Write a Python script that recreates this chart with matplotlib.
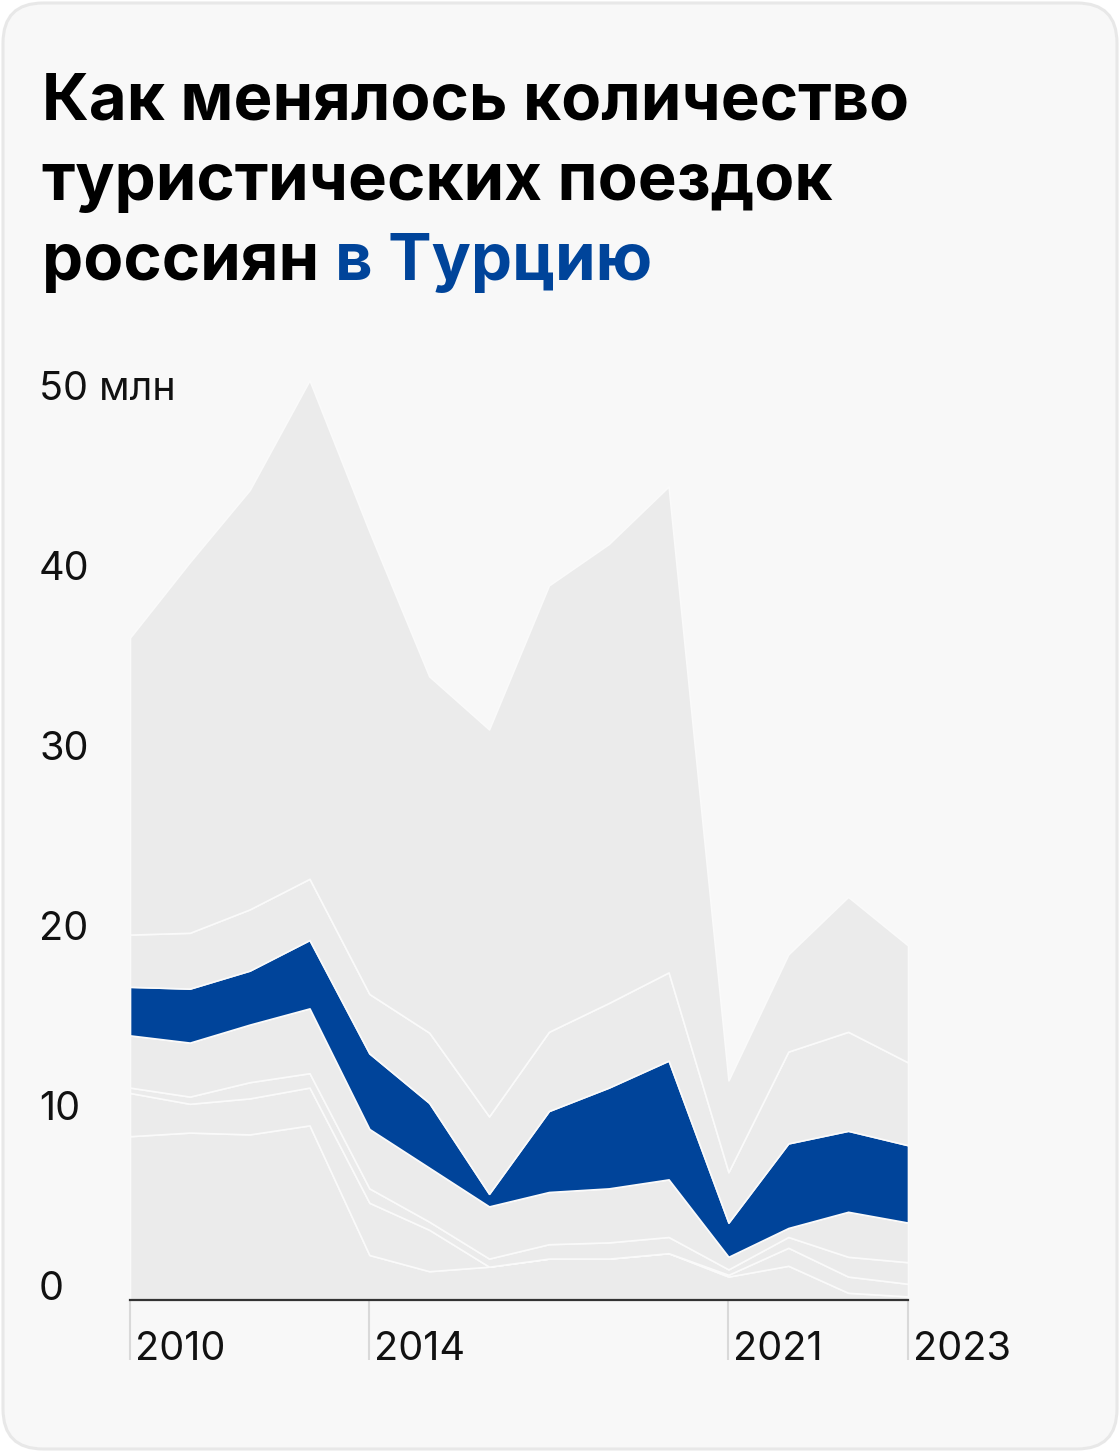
import matplotlib
matplotlib.use('Agg')
import matplotlib.pyplot as plt
from matplotlib.patches import FancyBboxPatch
from matplotlib.transforms import IdentityTransform, blended_transform_factory, offset_copy

# data (millions of trips), stacked from bottom to top
years = list(range(2010, 2024))
layer_1 = [9.1, 9.3, 9.2, 9.7, 2.5, 1.6, 1.85, 2.3, 2.3, 2.6, 1.3, 1.9, 0.4, 0.2]
layer_2 = [2.4, 1.6, 2.0, 2.1, 2.9, 2.3, 0.0, 0.0, 0.0, 0.0, 0.1, 1.0, 0.9, 0.7]
layer_3 = [0.3, 0.4, 0.9, 0.8, 0.8, 0.45, 0.45, 0.8, 0.9, 0.9, 0.3, 0.6, 1.1, 1.2]
layer_4 = [2.9, 3.0, 3.2, 3.6, 3.3, 3.0, 2.9, 2.9, 3.0, 3.2, 0.7, 0.5, 2.5, 2.2]
turkey = [2.7, 3.0, 3.0, 3.8, 4.2, 3.6, 0.7, 4.5, 5.6, 6.6, 1.9, 4.7, 4.5, 4.3]
layer_6 = [2.9, 3.1, 3.4, 3.4, 3.3, 3.9, 4.3, 4.4, 4.7, 4.9, 2.8, 5.1, 5.5, 4.6]
other = [16.5, 20.6, 23.3, 27.7, 25.7, 19.8, 21.5, 24.8, 25.5, 27.0, 5.1, 5.4, 7.5, 6.5]

y_ticks = [0, 10, 20, 30, 40, 50]
y_labels = ['0', '10', '20', '30', '40', '50 млн']
x_ticks = [2010, 2014, 2020, 2023]
x_labels = ['2010', '2014', '2021', '2023']

W, H = 1120, 1452
GREY = '#ebebeb'
BLUE = '#00449a'
BG = '#f8f8f8'

plt.rcParams['font.family'] = ['Inter', 'DejaVu Sans']

fig = plt.figure(figsize=(W / 100, H / 100), dpi=100)
fig.patch.set_facecolor('white')

card = FancyBboxPatch((3, 3), W - 6, H - 6, boxstyle='round,pad=0,rounding_size=40',
                      transform=IdentityTransform(), facecolor=BG, edgecolor='#e8e8e8',
                      linewidth=2.2, zorder=-10)
fig.add_artist(card)

# title
fig.text(42 / W, 1 - 120 / H, 'Как менялось количество', fontsize=47,
         fontweight='bold', color='black', va='baseline')
fig.text(42 / W, 1 - 200 / H, 'туристических поездок', fontsize=47,
         fontweight='bold', color='black', va='baseline')
t1 = fig.text(42 / W, 1 - 280 / H, 'россиян ', fontsize=47,
              fontweight='bold', color='black', va='baseline')
fig.canvas.draw()
bb = t1.get_window_extent()
fig.text(bb.x1 / W, 1 - 280 / H, 'в Турцию', fontsize=47,
         fontweight='bold', color=BLUE, va='baseline')

ax = fig.add_axes([130 / W, (H - 1300) / H, 778 / W, 52 * 18 / H])
ax.set_facecolor('none')
ax.stackplot(years, layer_1, layer_2, layer_3, layer_4, turkey, layer_6, other,
             colors=[GREY, GREY, GREY, GREY, BLUE, GREY, GREY],
             edgecolor='#fafafa', linewidth=1.2)
ax.set_xlim(2010, 2023)
ax.set_ylim(0, 52)

for s in ['top', 'right', 'left']:
    ax.spines[s].set_visible(False)
ax.spines['bottom'].set_color('#333333')
ax.spines['bottom'].set_linewidth(1.6)
ax.set_yticks([])
ax.set_xticks(x_ticks)
ax.set_xticklabels([])
ax.tick_params(axis='x', direction='out', length=43, width=1.5, color='#d9d9d9')

# x labels sit to the right of their tick
xtr = offset_copy(blended_transform_factory(ax.transData, fig.transFigure), fig=fig,
                  x=5, y=0, units='dots')
for t, lab in zip(x_ticks, x_labels):
    ax.text(t, 1 - 1360 / H, lab, transform=xtr, fontsize=28.5, color='#111111',
            ha='left', va='baseline')

# y labels on the left, baseline at the value
ytr = blended_transform_factory(fig.transFigure, ax.transData)
for v, lab in zip(y_ticks, y_labels):
    ax.text(39 / W, v, lab, transform=ytr, fontsize=28.5, color='#111111',
            ha='left', va='baseline')

fig.savefig('out.png', dpi=100, facecolor='white')
